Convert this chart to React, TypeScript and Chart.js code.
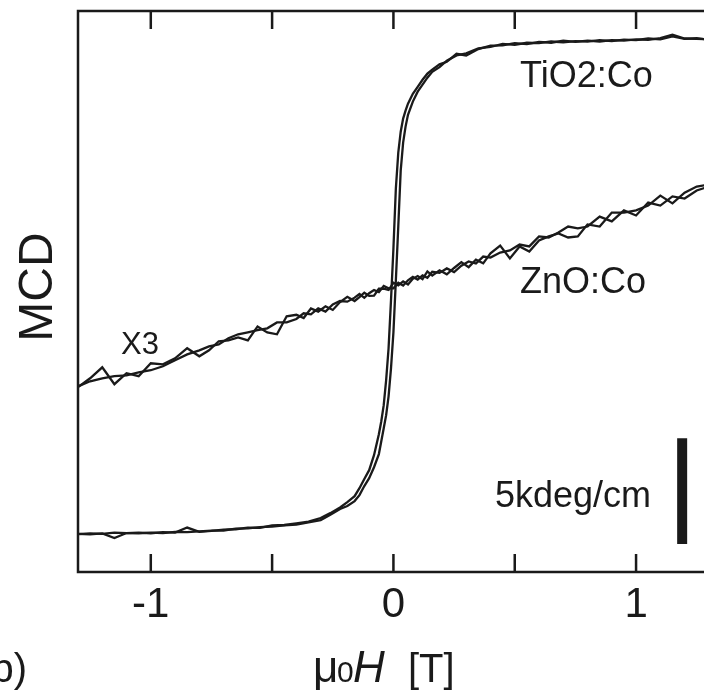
import React, { useEffect, useRef } from 'react';
import { Chart, registerables } from 'chart.js';

Chart.register(...registerables);

// ---- data (field in T, MCD in kdeg/cm, arbitrary offsets) ----
const fieldTiO2 = [
  -1.30, -1.25, -1.20, -1.15, -1.10, -1.05, -1.00, -0.95, -0.90, -0.85,
  -0.80, -0.75, -0.70, -0.65, -0.60, -0.55, -0.50, -0.45, -0.40, -0.35,
  -0.30, -0.26, -0.22, -0.19, -0.16, -0.14, -0.12, -0.10, -0.08, -0.06,
  -0.05, -0.04, -0.03, -0.02, -0.01, 0.00, 0.01, 0.02, 0.03, 0.04,
  0.05, 0.06, 0.08, 0.10, 0.12, 0.14, 0.16, 0.19, 0.22, 0.26,
  0.30, 0.35, 0.40, 0.45, 0.50, 0.55, 0.60, 0.65, 0.70, 0.75,
  0.80, 0.85, 0.90, 0.95, 1.00, 1.05, 1.10, 1.15, 1.20, 1.25,
  1.30,
];
const tio2Up = [
  1.79, 1.82, 1.80, 1.86, 1.84, 1.82, 1.86, 1.84, 1.90, 1.88,
  1.92, 1.95, 1.96, 2.05, 2.06, 2.12, 2.15, 2.20, 2.24, 2.34,
  2.45, 2.70, 2.98, 3.12, 3.35, 3.63, 4.06, 4.43, 4.95, 5.57,
  6.18, 6.79, 7.41, 8.30, 9.62, 11.32, 13.77, 16.32, 18.96, 20.28,
  21.04, 21.60, 22.22, 22.69, 23.02, 23.35, 23.63, 23.85, 24.15, 24.40,
  24.50, 24.74, 24.80, 24.95, 24.90, 25.00, 24.98, 25.06, 25.02, 25.08,
  25.05, 25.12, 25.08, 25.15, 25.12, 25.20, 25.16, 25.30, 25.18, 25.22,
  25.14,
];
const tio2Down = [
  1.80, 1.78, 1.82, 1.60, 1.84, 1.86, 1.83, 1.88, 1.86, 2.10,
  1.90, 1.94, 2.00, 2.02, 2.10, 2.08, 2.20, 2.22, 2.30, 2.38,
  2.55, 2.78, 3.05, 3.30, 3.58, 3.96, 4.39, 4.81, 5.52, 6.51,
  7.12, 7.88, 9.06, 10.57, 12.83, 15.28, 18.11, 19.81, 20.80, 21.42,
  21.79, 22.12, 22.59, 22.92, 23.25, 23.54, 23.73, 23.98, 24.10, 24.48,
  24.40, 24.70, 24.86, 24.88, 24.98, 24.94, 25.04, 25.00, 25.10, 25.04,
  25.10, 25.06, 25.12, 25.10, 25.16, 25.14, 25.22, 25.38, 25.20, 25.18,
  25.16,
];

const fieldZnO = [
  -1.30, -1.25, -1.20, -1.15, -1.10, -1.05, -1.00, -0.95, -0.90, -0.85,
  -0.80, -0.76, -0.72, -0.68, -0.64, -0.60, -0.56, -0.52, -0.48, -0.44,
  -0.40, -0.37, -0.34, -0.31, -0.28, -0.25, -0.22, -0.19, -0.16, -0.14,
  -0.12, -0.10, -0.08, -0.06, -0.04, -0.02, 0.00, 0.02, 0.04, 0.06,
  0.08, 0.10, 0.12, 0.14, 0.16, 0.19, 0.22, 0.25, 0.28, 0.31,
  0.34, 0.37, 0.40, 0.44, 0.48, 0.52, 0.56, 0.60, 0.64, 0.68,
  0.72, 0.76, 0.80, 0.85, 0.90, 0.95, 1.00, 1.05, 1.10, 1.15,
  1.20, 1.25, 1.30,
];
const znoSweepA = [
  8.73, 9.15, 9.67, 8.87, 9.39, 9.25, 9.86, 9.81, 10.09, 10.57,
  10.19, 10.47, 10.90, 10.94, 11.08, 10.94, 11.60, 11.32, 11.23, 12.08,
  12.15, 12.00, 12.45, 12.30, 12.55, 12.38, 12.75, 13.00, 12.80, 12.98,
  13.19, 13.04, 13.05, 13.38, 13.38, 13.32, 13.66, 13.54, 13.73, 13.58,
  13.85, 13.98, 13.83, 14.20, 14.00, 14.25, 14.06, 14.36, 14.64, 14.40,
  14.75, 14.58, 15.05, 15.42, 14.81, 15.38, 15.14, 15.66, 15.85, 15.99,
  15.80, 15.85, 16.42, 16.32, 16.98, 16.98, 17.08, 17.31, 17.78, 17.41,
  17.92, 18.21, 18.30,
];
const znoSweepB = [
  8.77, 9.01, 9.15, 9.25, 9.29, 9.43, 9.53, 9.72, 10.00, 10.28,
  10.47, 10.66, 10.75, 11.04, 11.23, 11.32, 11.42, 11.51, 11.79, 11.79,
  11.95, 12.22, 12.17, 12.45, 12.30, 12.64, 12.80, 12.77, 12.96, 13.13,
  12.95, 13.17, 13.32, 13.22, 13.51, 13.40, 13.40, 13.66, 13.53, 13.78,
  13.94, 13.81, 14.01, 13.90, 14.18, 14.13, 14.34, 14.17, 14.47, 14.67,
  14.57, 14.90, 14.85, 15.09, 15.19, 15.47, 15.38, 15.85, 15.80, 16.04,
  16.32, 16.23, 16.32, 16.79, 16.56, 17.08, 16.84, 17.45, 17.31, 17.74,
  17.64, 18.02, 18.21,
];

// 5 kdeg/cm scale bar
const scaleBarField = [1.19, 1.19];
const scaleBarMCD = [1.32, 6.32];

const xTickValues = [-1, -0.5, 0, 0.5, 1];
const xTickLabels = ['-1', '', '0', '', '1'];

const INK = '#1a1a1a';
const FONT = '"Liberation Sans", Arial, Helvetica, sans-serif';

const toPoints = (xs: number[], ys: number[]) => xs.map((x, i) => ({ x, y: ys[i] }));

const framePlugin = {
  id: 'frame',
  afterDatasetsDraw(chart: any) {
    const { ctx, chartArea } = chart;
    const xs = chart.scales.x;
    const { left, top, bottom } = chartArea;
    const right = chart.width;
    ctx.save();
    ctx.strokeStyle = INK;
    ctx.lineWidth = 2.5;
    ctx.lineCap = 'square';
    ctx.beginPath();
    ctx.moveTo(right + 5, top);
    ctx.lineTo(left, top);
    ctx.lineTo(left, bottom);
    ctx.lineTo(right + 5, bottom);
    ctx.stroke();
    ctx.lineCap = 'butt';
    const tickLen = 18;
    ctx.beginPath();
    xs.ticks.forEach((t: any) => {
      const px = xs.getPixelForValue(t.value);
      ctx.moveTo(px, top);
      ctx.lineTo(px, top + tickLen);
      ctx.moveTo(px, bottom);
      ctx.lineTo(px, bottom - tickLen);
    });
    ctx.stroke();
    ctx.restore();
  },
};

const textPlugin = {
  id: 'texts',
  afterDraw(chart: any) {
    const { ctx } = chart;
    ctx.save();
    ctx.fillStyle = INK;
    ctx.textBaseline = 'alphabetic';
    ctx.textAlign = 'left';
    ctx.font = `36px ${FONT}`;
    ctx.fillText('TiO2:Co', 520, 87);
    ctx.fillText('ZnO:Co', 520, 293);
    ctx.fillText('5kdeg/cm', 495, 507);
    ctx.font = `31px ${FONT}`;
    ctx.fillText('X3', 121, 354);

    // x-axis title  μ0H [T]
    ctx.font = `44px ${FONT}`;
    ctx.fillText('\u03bc', 313, 682);
    ctx.font = `30px ${FONT}`;
    ctx.fillText('0', 337, 682);
    ctx.font = `italic 44px ${FONT}`;
    ctx.fillText('H', 353, 682);
    ctx.font = `40px ${FONT}`;
    ctx.fillText('[T]', 408, 682);

    // panel label
    ctx.textAlign = 'right';
    ctx.fillText('b)', 27, 682);

    // y-axis title
    ctx.save();
    ctx.translate(52, 287);
    ctx.rotate(-Math.PI / 2);
    ctx.textAlign = 'center';
    ctx.font = `48px ${FONT}`;
    ctx.fillText('MCD', 0, 0);
    ctx.restore();
    ctx.restore();
  },
};

export default function App() {
  const ref = useRef<HTMLCanvasElement>(null);
  useEffect(() => {
    const canvas = ref.current;
    if (!canvas) return;
    const line = (data: { x: number; y: number }[], width = 2.3) => ({
      data,
      borderColor: INK,
      backgroundColor: INK,
      borderWidth: width,
      pointRadius: 0,
      tension: 0,
      fill: false,
      borderCapStyle: 'butt' as const,
      borderJoinStyle: 'miter' as const,
    });
    const chart = new Chart(canvas, {
      type: 'line',
      data: {
        datasets: [
          line(toPoints(fieldTiO2, tio2Up)),
          line(toPoints(fieldTiO2, tio2Down)),
          line(toPoints(fieldZnO, znoSweepA)),
          line(toPoints(fieldZnO, znoSweepB)),
          line(toPoints(scaleBarField, scaleBarMCD), 10),
        ],
      },
      options: {
        animation: false,
        responsive: false,
        maintainAspectRatio: false,
        layout: { padding: { left: 78, top: 11, right: 0, bottom: 0 } },
        plugins: { legend: { display: false }, tooltip: { enabled: false } },
        scales: {
          x: {
            type: 'linear',
            min: -1.3,
            max: 1.28,
            afterBuildTicks: (s: any) => {
              s.ticks = xTickValues.map((v) => ({ value: v }));
            },
            afterFit: (s: any) => {
              s.height = 123;
            },
            grid: { display: false, drawTicks: false },
            border: { display: false },
            ticks: {
              padding: 8,
              color: INK,
              autoSkip: false,
              maxRotation: 0,
              font: { family: FONT, size: 42 },
              callback: (v: any) => {
                const i = xTickValues.indexOf(Number(v));
                return i >= 0 ? xTickLabels[i] : '';
              },
            },
          },
          y: { type: 'linear', display: false, min: 0, max: 26.5 },
        },
      },
      plugins: [framePlugin, textPlugin],
    });
    return () => chart.destroy();
  }, []);
  return (
    <div style={{ position: 'absolute', left: 0, top: 0, width: 704, height: 695, background: '#fff' }}>
      <canvas ref={ref} width={704} height={695} style={{ display: 'block', width: 704, height: 695 }} />
    </div>
  );
}
